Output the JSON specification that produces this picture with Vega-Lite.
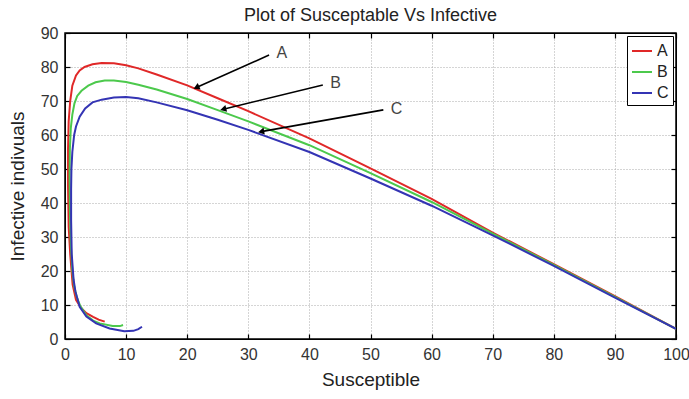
{
  "$schema": "https://vega.github.io/schema/vega-lite/v6.json",
  "width": 611,
  "height": 306,
  "autosize": {"type": "none"},
  "padding": {"left": 65, "top": 33, "right": 13, "bottom": 60},
  "background": "white",
  "config": {
    "font": "Liberation Sans",
    "view": {"stroke": "black", "strokeWidth": 1.5},
    "axis": {"labelFont": "Liberation Sans", "titleFont": "Liberation Sans", "labelFontSize": 16, "titleFontSize": 19, "labelColor": "#333", "titleColor": "#222", "titleFontWeight": "normal", "domainColor": "black", "tickColor": "black", "tickSize": -5, "tickWidth": 1.2, "gridColor": "#aaa", "gridDash": [1, 2], "gridWidth": 1, "labelFlush": false, "labelOverlap": false},
    "legend": {"labelFontSize": 16, "labelColor": "#222", "labelFont": "Liberation Sans"}
  },
  "title": {"text": "Plot of Susceptable Vs Infective", "fontSize": 18, "fontWeight": "normal", "font": "Liberation Sans", "color": "#222", "offset": 0},
  "datasets": {
    "curves": [
      {"s": "A", "k": 0, "x": 100, "y": 3},
      {"s": "A", "k": 1, "x": 90, "y": 12.6},
      {"s": "A", "k": 2, "x": 80, "y": 22},
      {"s": "A", "k": 3, "x": 70, "y": 31.3},
      {"s": "A", "k": 4, "x": 60, "y": 41.2},
      {"s": "A", "k": 5, "x": 50, "y": 50.2},
      {"s": "A", "k": 6, "x": 40, "y": 59},
      {"s": "A", "k": 7, "x": 30, "y": 67},
      {"s": "A", "k": 8, "x": 25, "y": 70.8},
      {"s": "A", "k": 9, "x": 20, "y": 74.6},
      {"s": "A", "k": 10, "x": 15, "y": 77.8},
      {"s": "A", "k": 11, "x": 12, "y": 79.6},
      {"s": "A", "k": 12, "x": 10, "y": 80.5},
      {"s": "A", "k": 13, "x": 8, "y": 81.1},
      {"s": "A", "k": 14, "x": 6, "y": 81.2},
      {"s": "A", "k": 15, "x": 4.5, "y": 80.8},
      {"s": "A", "k": 16, "x": 3.2, "y": 80},
      {"s": "A", "k": 17, "x": 2.4, "y": 79},
      {"s": "A", "k": 18, "x": 1.8, "y": 77.5},
      {"s": "A", "k": 19, "x": 1.2, "y": 74.5},
      {"s": "A", "k": 20, "x": 0.85, "y": 70},
      {"s": "A", "k": 21, "x": 0.6, "y": 64},
      {"s": "A", "k": 22, "x": 0.5, "y": 56},
      {"s": "A", "k": 23, "x": 0.5, "y": 45},
      {"s": "A", "k": 24, "x": 0.6, "y": 33},
      {"s": "A", "k": 25, "x": 0.85, "y": 25},
      {"s": "A", "k": 26, "x": 1.25, "y": 16},
      {"s": "A", "k": 27, "x": 1.8, "y": 11.5},
      {"s": "A", "k": 28, "x": 2.6, "y": 9.2},
      {"s": "A", "k": 29, "x": 3.5, "y": 7.6},
      {"s": "A", "k": 30, "x": 4.6, "y": 6.5},
      {"s": "A", "k": 31, "x": 5.5, "y": 5.7},
      {"s": "A", "k": 32, "x": 6.5, "y": 5.1},
      {"s": "B", "k": 0, "x": 100, "y": 3},
      {"s": "B", "k": 1, "x": 90, "y": 12.4},
      {"s": "B", "k": 2, "x": 80, "y": 21.8},
      {"s": "B", "k": 3, "x": 70, "y": 31},
      {"s": "B", "k": 4, "x": 60, "y": 40.3},
      {"s": "B", "k": 5, "x": 50, "y": 48.8},
      {"s": "B", "k": 6, "x": 40, "y": 57},
      {"s": "B", "k": 7, "x": 30, "y": 64},
      {"s": "B", "k": 8, "x": 25, "y": 67.3},
      {"s": "B", "k": 9, "x": 20, "y": 70.6},
      {"s": "B", "k": 10, "x": 15, "y": 73.4},
      {"s": "B", "k": 11, "x": 12, "y": 74.8},
      {"s": "B", "k": 12, "x": 10, "y": 75.6},
      {"s": "B", "k": 13, "x": 8, "y": 76},
      {"s": "B", "k": 14, "x": 6.5, "y": 76},
      {"s": "B", "k": 15, "x": 5, "y": 75.5},
      {"s": "B", "k": 16, "x": 3.8, "y": 74.5},
      {"s": "B", "k": 17, "x": 2.7, "y": 73},
      {"s": "B", "k": 18, "x": 2, "y": 71.5},
      {"s": "B", "k": 19, "x": 1.55, "y": 69.3},
      {"s": "B", "k": 20, "x": 1.2, "y": 66},
      {"s": "B", "k": 21, "x": 0.95, "y": 62},
      {"s": "B", "k": 22, "x": 0.8, "y": 56},
      {"s": "B", "k": 23, "x": 0.75, "y": 48},
      {"s": "B", "k": 24, "x": 0.8, "y": 38},
      {"s": "B", "k": 25, "x": 0.95, "y": 28},
      {"s": "B", "k": 26, "x": 1.2, "y": 20},
      {"s": "B", "k": 27, "x": 1.5, "y": 15.5},
      {"s": "B", "k": 28, "x": 1.9, "y": 12.5},
      {"s": "B", "k": 29, "x": 2.5, "y": 9.7},
      {"s": "B", "k": 30, "x": 3.5, "y": 7},
      {"s": "B", "k": 31, "x": 4.6, "y": 5.4},
      {"s": "B", "k": 32, "x": 5.7, "y": 4.6},
      {"s": "B", "k": 33, "x": 7.8, "y": 3.8},
      {"s": "B", "k": 34, "x": 9, "y": 3.8},
      {"s": "B", "k": 35, "x": 9.5, "y": 4.1},
      {"s": "C", "k": 0, "x": 100, "y": 3},
      {"s": "C", "k": 1, "x": 90, "y": 12.2},
      {"s": "C", "k": 2, "x": 80, "y": 21.5},
      {"s": "C", "k": 3, "x": 70, "y": 30.5},
      {"s": "C", "k": 4, "x": 60, "y": 39.2},
      {"s": "C", "k": 5, "x": 50, "y": 47.2},
      {"s": "C", "k": 6, "x": 40, "y": 55},
      {"s": "C", "k": 7, "x": 30, "y": 61.5},
      {"s": "C", "k": 8, "x": 25, "y": 64.5},
      {"s": "C", "k": 9, "x": 20, "y": 67.3},
      {"s": "C", "k": 10, "x": 15, "y": 69.6},
      {"s": "C", "k": 11, "x": 12, "y": 70.8},
      {"s": "C", "k": 12, "x": 10, "y": 71.2},
      {"s": "C", "k": 13, "x": 8, "y": 71},
      {"s": "C", "k": 14, "x": 6, "y": 70.4},
      {"s": "C", "k": 15, "x": 4.5, "y": 69.6},
      {"s": "C", "k": 16, "x": 3.3, "y": 67.8},
      {"s": "C", "k": 17, "x": 2.4, "y": 65.4},
      {"s": "C", "k": 18, "x": 1.8, "y": 62.5},
      {"s": "C", "k": 19, "x": 1.5, "y": 60},
      {"s": "C", "k": 20, "x": 1.2, "y": 55},
      {"s": "C", "k": 21, "x": 1.05, "y": 50},
      {"s": "C", "k": 22, "x": 1.0, "y": 44},
      {"s": "C", "k": 23, "x": 1.0, "y": 35},
      {"s": "C", "k": 24, "x": 1.1, "y": 25},
      {"s": "C", "k": 25, "x": 1.4, "y": 17.5},
      {"s": "C", "k": 26, "x": 1.7, "y": 14},
      {"s": "C", "k": 27, "x": 2.4, "y": 9.5},
      {"s": "C", "k": 28, "x": 3.5, "y": 6.6},
      {"s": "C", "k": 29, "x": 5.1, "y": 4.6},
      {"s": "C", "k": 30, "x": 7.3, "y": 3.1},
      {"s": "C", "k": 31, "x": 9.7, "y": 2.3},
      {"s": "C", "k": 32, "x": 11.2, "y": 2.4},
      {"s": "C", "k": 33, "x": 12, "y": 2.9},
      {"s": "C", "k": 34, "x": 12.6, "y": 3.6}
    ],
    "notes": [
      {"label": "A", "x": 33.4, "y": 83.5, "tx": 21.5, "ty": 74.0, "lx": 34.6, "ly": 84.1},
      {"label": "B", "x": 42.2, "y": 74.7, "tx": 25.9, "ty": 67.6, "lx": 43.4, "ly": 75.4},
      {"label": "C", "x": 52.1, "y": 67.4, "tx": 32.1, "ty": 61.0, "lx": 53.3, "ly": 67.6}
    ]
  },
  "layer": [
    {
      "data": {"name": "curves"},
      "mark": {"type": "line", "strokeWidth": 2, "clip": true},
      "encoding": {
        "x": {"field": "x", "type": "quantitative", "scale": {"domain": [0, 100], "nice": false, "zero": false}, "axis": {"title": "Susceptible", "values": [0,10,20,30,40,50,60,70,80,90,100], "grid": true, "labelPadding": 12, "titlePadding": 8}},
        "y": {"field": "y", "type": "quantitative", "scale": {"domain": [0, 90], "nice": false}, "axis": {"title": "Infective indivuals", "values": [0,10,20,30,40,50,60,70,80,90], "grid": true, "labelPadding": 12, "titlePadding": 13}},
        "color": {"field": "s", "type": "nominal", "scale": {"domain": ["A", "B", "C"], "range": ["#e02828", "#4cc94c", "#3434b4"]}, "legend": {"title": null, "orient": "top-right", "offset": 3, "symbolType": "stroke", "symbolSize": 400, "symbolStrokeWidth": 2, "strokeColor": "black", "padding": 4, "rowPadding": 2, "labelOffset": 4, "fillColor": "white"}},
        "order": {"field": "k", "type": "quantitative"}
      }
    },
    {
      "data": {"name": "notes"},
      "mark": {"type": "rule", "color": "black", "strokeWidth": 1.6},
      "encoding": {
        "x": {"field": "x", "type": "quantitative", "axis": {"orient": "top", "labels": false, "title": null, "grid": false, "values": [0,10,20,30,40,50,60,70,80,90,100]}},
        "y": {"field": "y", "type": "quantitative", "axis": {"orient": "right", "labels": false, "title": null, "grid": false, "values": [0,10,20,30,40,50,60,70,80,90]}},
        "x2": {"field": "tx"},
        "y2": {"field": "ty"}
      }
    },
    {
      "data": {"name": "notes"},
      "transform": [{"filter": "datum.label === 'A'"}],
      "mark": {"type": "point", "shape": "triangle-up", "filled": true, "color": "black", "size": 50, "angle": 246, "opacity": 1},
      "encoding": {"x": {"field": "tx", "type": "quantitative", "axis": null}, "y": {"field": "ty", "type": "quantitative", "axis": null}}
    },
    {
      "data": {"name": "notes"},
      "transform": [{"filter": "datum.label === 'B'"}],
      "mark": {"type": "point", "shape": "triangle-up", "filled": true, "color": "black", "size": 50, "angle": 256, "opacity": 1},
      "encoding": {"x": {"field": "tx", "type": "quantitative", "axis": null}, "y": {"field": "ty", "type": "quantitative", "axis": null}}
    },
    {
      "data": {"name": "notes"},
      "transform": [{"filter": "datum.label === 'C'"}],
      "mark": {"type": "point", "shape": "triangle-up", "filled": true, "color": "black", "size": 50, "angle": 260, "opacity": 1},
      "encoding": {"x": {"field": "tx", "type": "quantitative", "axis": null}, "y": {"field": "ty", "type": "quantitative", "axis": null}}
    },
    {
      "data": {"name": "notes"},
      "mark": {"type": "text", "fontSize": 16, "color": "#444", "align": "left", "baseline": "middle", "font": "Liberation Sans"},
      "encoding": {
        "x": {"field": "lx", "type": "quantitative", "axis": null},
        "y": {"field": "ly", "type": "quantitative", "axis": null},
        "text": {"field": "label"}
      }
    }
  ],
  "resolve": {"axis": {"x": "independent", "y": "independent"}}
}
